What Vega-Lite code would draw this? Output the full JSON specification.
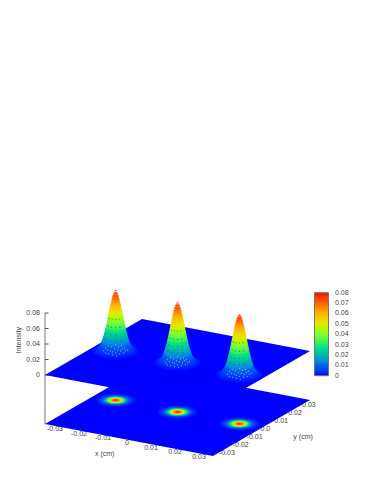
{"$schema":"https://vega.github.io/schema/vega-lite/v6.json","width":374,"height":484,"autosize":{"type":"fit","contains":"padding"},"padding":0,"background":"white","config":{"view":{"stroke":null},"text":{"font":"Liberation Sans","fontSize":7,"fill":"#444444"}},
"datasets":{
"plane":[{"x":-0.035,"y":-0.035,"xb":-0.035,"yb":-0.035},{"x":-0.035,"y":0.035,"xb":0.00542,"yb":-0.035},{"x":-0.00542,"y":0.035,"xb":0.035,"yb":-0.035},{"x":0.035,"y":0.035,"xb":0.035,"yb":0.035}],
"xticks":[{"x":-0.03,"y":-0.035,"t":"-0.03"},{"x":-0.02,"y":-0.035,"t":"-0.02"},{"x":-0.01,"y":-0.035,"t":"-0.01"},{"x":0,"y":-0.035,"t":"0"},{"x":0.01,"y":-0.035,"t":"0.01"},{"x":0.02,"y":-0.035,"t":"0.02"},{"x":0.03,"y":-0.035,"t":"0.03"}],
"yticks":[{"x":0.035,"y":-0.03,"t":"-0.03"},{"x":0.035,"y":-0.02,"t":"-0.02"},{"x":0.035,"y":-0.01,"t":"-0.01"},{"x":0.035,"y":0,"t":"0.0"},{"x":0.035,"y":0.01,"t":"0.01"},{"x":0.035,"y":0.02,"t":"0.02"},{"x":0.035,"y":0.03,"t":"0.03"}],
"zticks":[{"x":-0.035,"y":-0.035,"z":0,"t":"0"},{"x":-0.035,"y":-0.035,"z":0.02,"t":"0.02"},{"x":-0.035,"y":-0.035,"z":0.04,"t":"0.04"},{"x":-0.035,"y":-0.035,"z":0.06,"t":"0.06"},{"x":-0.035,"y":-0.035,"z":0.08,"t":"0.08"}],
"cbar":[{"z":0.01},{"z":0.02},{"z":0.03},{"z":0.04},{"z":0.05},{"z":0.06},{"z":0.07}],
"cbarlabels":[{"z":0,"t":"0"},{"z":0.01,"t":"0.01"},{"z":0.02,"t":"0.02"},{"z":0.03,"t":"0.03"},{"z":0.04,"t":"0.04"},{"z":0.05,"t":"0.05"},{"z":0.06,"t":"0.06"},{"z":0.07,"t":"0.07"},{"z":0.08,"t":"0.08"}],
"white":[{"dx":-0.00267,"dy":-0.00403,"z":0.003},{"dx":-0.00367,"dy":-0.00085,"z":0.003},{"dx":-0.00096,"dy":-0.00555,"z":0.003},{"dx":-0.00196,"dy":-0.00237,"z":0.003},{"dx":-0.00382,"dy":0.00157,"z":0.003},{"dx":0.00053,"dy":-0.00595,"z":0.003},{"dx":-0.00048,"dy":-0.00278,"z":0.003},{"dx":-0.00234,"dy":0.00116,"z":0.003},{"dx":0.00232,"dy":-0.00618,"z":0.003},{"dx":0.00069,"dy":-0.00336,"z":0.003},{"dx":-0.00031,"dy":-0.00018,"z":0.003},{"dx":-0.00217,"dy":0.00376,"z":0.003},{"dx":0.00217,"dy":-0.00376,"z":0.003},{"dx":0.00411,"dy":-0.0064,"z":0.003},{"dx":0.00117,"dy":-0.00058,"z":0.003},{"dx":-0.00015,"dy":0.00242,"z":0.003},{"dx":0.00397,"dy":-0.00398,"z":0.003},{"dx":0.00266,"dy":-0.00098,"z":0.003},{"dx":0.00025,"dy":0.00389,"z":0.003},{"dx":0.00219,"dy":0.00125,"z":0.003},{"dx":0.00467,"dy":-0.00233,"z":0.003},{"dx":0.00228,"dy":0.00255,"z":0.003},{"dx":0.00422,"dy":-0.00009,"z":0.003},{"dx":0.0043,"dy":0.00121,"z":0.003}],
"dark":[{"dx":0.0022,"dy":-0.0013,"z":0.044},{"dx":0.00125,"dy":-0.0022,"z":0.044},{"dx":0,"dy":-0.0025,"z":0.044},{"dx":-0.00125,"dy":-0.0022,"z":0.044},{"dx":0.0026,"dy":-0.0015,"z":0.034},{"dx":0.0015,"dy":-0.0026,"z":0.034},{"dx":0,"dy":-0.003,"z":0.034},{"dx":-0.0015,"dy":-0.0026,"z":0.034},{"dx":0.003,"dy":-0.0018,"z":0.025},{"dx":0.0018,"dy":-0.003,"z":0.025},{"dx":0,"dy":-0.0035,"z":0.025},{"dx":-0.0018,"dy":-0.003,"z":0.025},{"dx":0.0035,"dy":-0.002,"z":0.0174},{"dx":0.002,"dy":-0.0035,"z":0.0174},{"dx":0,"dy":-0.004,"z":0.0174},{"dx":-0.002,"dy":-0.0035,"z":0.0174}],
"hill":[
{"x":-0.0258,"z":0.0005,"r":0.00732},{"x":-0.0258,"z":0.001,"r":0.0068},{"x":-0.0258,"z":0.002,"r":0.00624},{"x":-0.0258,"z":0.003,"r":0.00588},{"x":-0.0258,"z":0.004,"r":0.00562},{"x":-0.0258,"z":0.006,"r":0.00522},{"x":-0.0258,"z":0.008,"r":0.00492},{"x":-0.0258,"z":0.01,"r":0.00468},{"x":-0.0258,"z":0.012,"r":0.00447},{"x":-0.0258,"z":0.014,"r":0.00428},{"x":-0.0258,"z":0.016,"r":0.00411},{"x":-0.0258,"z":0.018,"r":0.00396},{"x":-0.0258,"z":0.02,"r":0.00381},{"x":-0.0258,"z":0.022,"r":0.00368},{"x":-0.0258,"z":0.024,"r":0.00355},{"x":-0.0258,"z":0.026,"r":0.00343},{"x":-0.0258,"z":0.028,"r":0.00331},{"x":-0.0258,"z":0.03,"r":0.0032},{"x":-0.0258,"z":0.032,"r":0.00309},{"x":-0.0258,"z":0.034,"r":0.00299},{"x":-0.0258,"z":0.036,"r":0.00288},{"x":-0.0258,"z":0.038,"r":0.00278},{"x":-0.0258,"z":0.04,"r":0.00268},{"x":-0.0258,"z":0.042,"r":0.00259},{"x":-0.0258,"z":0.044,"r":0.00249},{"x":-0.0258,"z":0.046,"r":0.00239},{"x":-0.0258,"z":0.048,"r":0.0023},{"x":-0.0258,"z":0.05,"r":0.0022},{"x":-0.0258,"z":0.052,"r":0.0021},{"x":-0.0258,"z":0.054,"r":0.002},{"x":-0.0258,"z":0.056,"r":0.00191},{"x":-0.0258,"z":0.058,"r":0.00181},{"x":-0.0258,"z":0.06,"r":0.00171},{"x":-0.0258,"z":0.062,"r":0.0016},{"x":-0.0258,"z":0.064,"r":0.00149},{"x":-0.0258,"z":0.066,"r":0.00138},{"x":-0.0258,"z":0.068,"r":0.00126},{"x":-0.0258,"z":0.07,"r":0.00113},{"x":-0.0258,"z":0.072,"r":0.00099},{"x":-0.0258,"z":0.074,"r":0.00083},{"x":-0.0258,"z":0.076,"r":0.00064},{"x":-0.0258,"z":0.078,"r":0.00037},
{"x":0,"z":0.0005,"r":0.00732},{"x":0,"z":0.001,"r":0.0068},{"x":0,"z":0.002,"r":0.00624},{"x":0,"z":0.003,"r":0.00588},{"x":0,"z":0.004,"r":0.00562},{"x":0,"z":0.006,"r":0.00522},{"x":0,"z":0.008,"r":0.00492},{"x":0,"z":0.01,"r":0.00468},{"x":0,"z":0.012,"r":0.00447},{"x":0,"z":0.014,"r":0.00428},{"x":0,"z":0.016,"r":0.00411},{"x":0,"z":0.018,"r":0.00396},{"x":0,"z":0.02,"r":0.00381},{"x":0,"z":0.022,"r":0.00368},{"x":0,"z":0.024,"r":0.00355},{"x":0,"z":0.026,"r":0.00343},{"x":0,"z":0.028,"r":0.00331},{"x":0,"z":0.03,"r":0.0032},{"x":0,"z":0.032,"r":0.00309},{"x":0,"z":0.034,"r":0.00299},{"x":0,"z":0.036,"r":0.00288},{"x":0,"z":0.038,"r":0.00278},{"x":0,"z":0.04,"r":0.00268},{"x":0,"z":0.042,"r":0.00259},{"x":0,"z":0.044,"r":0.00249},{"x":0,"z":0.046,"r":0.00239},{"x":0,"z":0.048,"r":0.0023},{"x":0,"z":0.05,"r":0.0022},{"x":0,"z":0.052,"r":0.0021},{"x":0,"z":0.054,"r":0.002},{"x":0,"z":0.056,"r":0.00191},{"x":0,"z":0.058,"r":0.00181},{"x":0,"z":0.06,"r":0.00171},{"x":0,"z":0.062,"r":0.0016},{"x":0,"z":0.064,"r":0.00149},{"x":0,"z":0.066,"r":0.00138},{"x":0,"z":0.068,"r":0.00126},{"x":0,"z":0.07,"r":0.00113},{"x":0,"z":0.072,"r":0.00099},{"x":0,"z":0.074,"r":0.00083},{"x":0,"z":0.076,"r":0.00064},{"x":0,"z":0.078,"r":0.00037},
{"x":0.0258,"z":0.0005,"r":0.00732},{"x":0.0258,"z":0.001,"r":0.0068},{"x":0.0258,"z":0.002,"r":0.00624},{"x":0.0258,"z":0.003,"r":0.00588},{"x":0.0258,"z":0.004,"r":0.00562},{"x":0.0258,"z":0.006,"r":0.00522},{"x":0.0258,"z":0.008,"r":0.00492},{"x":0.0258,"z":0.01,"r":0.00468},{"x":0.0258,"z":0.012,"r":0.00447},{"x":0.0258,"z":0.014,"r":0.00428},{"x":0.0258,"z":0.016,"r":0.00411},{"x":0.0258,"z":0.018,"r":0.00396},{"x":0.0258,"z":0.02,"r":0.00381},{"x":0.0258,"z":0.022,"r":0.00368},{"x":0.0258,"z":0.024,"r":0.00355},{"x":0.0258,"z":0.026,"r":0.00343},{"x":0.0258,"z":0.028,"r":0.00331},{"x":0.0258,"z":0.03,"r":0.0032},{"x":0.0258,"z":0.032,"r":0.00309},{"x":0.0258,"z":0.034,"r":0.00299},{"x":0.0258,"z":0.036,"r":0.00288},{"x":0.0258,"z":0.038,"r":0.00278},{"x":0.0258,"z":0.04,"r":0.00268},{"x":0.0258,"z":0.042,"r":0.00259},{"x":0.0258,"z":0.044,"r":0.00249},{"x":0.0258,"z":0.046,"r":0.00239},{"x":0.0258,"z":0.048,"r":0.0023},{"x":0.0258,"z":0.05,"r":0.0022},{"x":0.0258,"z":0.052,"r":0.0021},{"x":0.0258,"z":0.054,"r":0.002},{"x":0.0258,"z":0.056,"r":0.00191},{"x":0.0258,"z":0.058,"r":0.00181},{"x":0.0258,"z":0.06,"r":0.00171},{"x":0.0258,"z":0.062,"r":0.0016},{"x":0.0258,"z":0.064,"r":0.00149},{"x":0.0258,"z":0.066,"r":0.00138},{"x":0.0258,"z":0.068,"r":0.00126},{"x":0.0258,"z":0.07,"r":0.00113},{"x":0.0258,"z":0.072,"r":0.00099},{"x":0.0258,"z":0.074,"r":0.00083},{"x":0.0258,"z":0.076,"r":0.00064},{"x":0.0258,"z":0.078,"r":0.00037}
]},
"encoding":{"x":{"field":"sx","type":"quantitative","scale":{"domain":[0,374],"nice":false,"zero":false},"axis":null},"y":{"field":"sy","type":"quantitative","scale":{"domain":[484,0],"nice":false,"zero":false},"axis":null}},
"layer":[
{"data":{"name":"xticks"},"transform":[{"calculate":"177.5+2400*datum.x+1386*datum.y","as":"sx"},{"calculate":"412+457*datum.x-800*datum.y","as":"sy"}],"mark":{"type":"text","align":"center","baseline":"middle","dx":-2,"dy":3},"encoding":{"text":{"field":"t"}}},
{"data":{"name":"yticks"},"transform":[{"calculate":"177.5+2400*datum.x+1386*datum.y","as":"sx"},{"calculate":"412+457*datum.x-800*datum.y","as":"sy"}],"mark":{"type":"text","align":"left","baseline":"middle","dx":-1,"dy":1},"encoding":{"text":{"field":"t"}}},
{"data":{"values":[{"x":0,"y":-0.0525,"t":"x (cm)"},{"x":0.0529,"y":-0.001,"t":"y (cm)"}]},"transform":[{"calculate":"177.5+2400*datum.x+1386*datum.y","as":"sx"},{"calculate":"412+457*datum.x-800*datum.y","as":"sy"}],"mark":{"type":"text","align":"center","baseline":"middle"},"encoding":{"text":{"field":"t"}}},
{"data":{"name":"zticks"},"transform":[{"calculate":"177.5+2400*datum.x+1386*datum.y","as":"sx"},{"calculate":"363+457*datum.x-800*datum.y-775*datum.z","as":"sy"}],"mark":{"type":"text","align":"right","baseline":"middle","dx":-5},"encoding":{"text":{"field":"t"}}},
{"data":{"values":[{"x":-0.035,"y":-0.035,"z":0.045,"t":"Intensity"}]},"transform":[{"calculate":"177.5+2400*datum.x+1386*datum.y","as":"sx"},{"calculate":"363+457*datum.x-800*datum.y-775*datum.z","as":"sy"}],"mark":{"type":"text","align":"center","baseline":"middle","angle":270,"dy":-26},"encoding":{"text":{"field":"t"}}},
{"data":{"values":[{"x":-0.035,"y":-0.035,"z":0.08}]},"transform":[{"calculate":"177.5+2400*datum.x+1386*datum.y","as":"sx"},{"calculate":"363+457*datum.x-800*datum.y-775*datum.z","as":"sy"},{"calculate":"412+457*datum.x-800*datum.y","as":"sb"}],"mark":{"type":"rule","color":"#777777","strokeWidth":1},"encoding":{"y2":{"field":"sb"}}},
{"data":{"name":"zticks"},"transform":[{"calculate":"177.5+2400*datum.x+1386*datum.y","as":"sx"},{"calculate":"datum.sx+3.5","as":"se"},{"calculate":"363+457*datum.x-800*datum.y-775*datum.z","as":"sy"}],"mark":{"type":"rule","color":"#555555","strokeWidth":1},"encoding":{"x2":{"field":"se"}}},
{"data":{"name":"plane"},"transform":[{"calculate":"177.5+2400*datum.x+1386*datum.y","as":"sx"},{"calculate":"412+457*datum.x-800*datum.y","as":"sy"},{"calculate":"412+457*datum.xb-800*datum.yb","as":"sb"}],"mark":{"type":"area","color":"#0000ff","opacity":1},"encoding":{"y2":{"field":"sb"}}},
{"data":{"name":"hill"},"transform":[{"calculate":"177.5+2400*datum.x","as":"sx"},{"calculate":"412+457*datum.x","as":"sy"}],"mark":{"type":"point","filled":true,"opacity":1,"strokeWidth":0,"shape":"M-1,0C-1,-0.183,-0.5523,-0.332,0,-0.332C0.5523,-0.332,1,-0.183,1,0C1,0.183,0.5523,0.332,0,0.332C-0.5523,0.332,-1,0.183,-1,0Z"},"encoding":{"color":{"field":"z","type":"quantitative","scale":{"domain":[0,0.01,0.02,0.03,0.04,0.05,0.06,0.07,0.08],"range":["#0000ff","#0061e8","#00b5a8","#20eb69","#80ff29","#dfeb00","#ffb500","#ff6100","#ff0000"]},"legend":{"type":"gradient","orient":"none","legendX":314.5,"legendY":292.7,"title":null,"direction":"vertical","gradientLength":83,"gradientThickness":14,"gradientStrokeColor":"#777777","gradientStrokeWidth":1,"values":[],"labelExpr":"''"}},"size":{"field":"r","type":"quantitative","scale":{"type":"pow","exponent":2,"domain":[0,0.01],"range":[0,3071]},"legend":null}}},
{"data":{"name":"plane"},"transform":[{"calculate":"177.5+2400*datum.x+1386*datum.y","as":"sx"},{"calculate":"363+457*datum.x-800*datum.y","as":"sy"},{"calculate":"363+457*datum.xb-800*datum.yb","as":"sb"}],"mark":{"type":"area","color":"#0000ff","opacity":1},"encoding":{"y2":{"field":"sb"}}},
{"data":{"name":"hill"},"transform":[{"calculate":"177.5+2400*datum.x","as":"sx"},{"calculate":"363+457*datum.x-775*datum.z","as":"sy"},{"calculate":"datum.r*1.15","as":"rw"}],"mark":{"type":"point","filled":true,"opacity":1,"strokeWidth":0,"shape":"M-1,0C-1,-0.183,-0.5523,-0.332,0,-0.332C0.5523,-0.332,1,-0.183,1,0C1,0.183,0.5523,0.332,0,0.332C-0.5523,0.332,-1,0.183,-1,0Z"},"encoding":{"color":{"field":"z","type":"quantitative","scale":{"domain":[0,0.01,0.02,0.03,0.04,0.05,0.06,0.07,0.08],"range":["#0000ff","#0061e8","#00b5a8","#20eb69","#80ff29","#dfeb00","#ffb500","#ff6100","#ff0000"]},"legend":null},"size":{"field":"rw","type":"quantitative","scale":{"type":"pow","exponent":2,"domain":[0,0.01],"range":[0,3071]},"legend":null}}},
{"data":{"name":"dark"},"transform":[{"calculate":"[-0.0258,0,0.0258]","as":"p"},{"flatten":["p"]},{"calculate":"177.5+2400*(datum.p+datum.dx)+1386*datum.dy","as":"sx"},{"calculate":"363+457*(datum.p+datum.dx)-800*datum.dy-775*datum.z","as":"sy"}],"mark":{"type":"point","filled":true,"color":"#00205a","opacity":0.4,"size":2,"strokeWidth":0}},
{"data":{"name":"white"},"transform":[{"calculate":"[-0.0258,0,0.0258]","as":"p"},{"flatten":["p"]},{"calculate":"177.5+2400*(datum.p+datum.dx)+1386*datum.dy","as":"sx"},{"calculate":"363+457*(datum.p+datum.dx)-800*datum.dy-775*datum.z","as":"sy"}],"mark":{"type":"point","filled":true,"color":"#ffffff","opacity":0.5,"size":1.5,"strokeWidth":0}},
{"data":{"name":"cbar"},"transform":[{"calculate":"314.5","as":"sx"},{"calculate":"317.5","as":"se"},{"calculate":"375.7-1037.5*datum.z","as":"sy"}],"mark":{"type":"rule","color":"#222222","strokeWidth":1},"encoding":{"x2":{"field":"se"}}},
{"data":{"name":"cbar"},"transform":[{"calculate":"325.5","as":"sx"},{"calculate":"328.5","as":"se"},{"calculate":"375.7-1037.5*datum.z","as":"sy"}],"mark":{"type":"rule","color":"#222222","strokeWidth":1},"encoding":{"x2":{"field":"se"}}},
{"data":{"name":"cbarlabels"},"transform":[{"calculate":"335","as":"sx"},{"calculate":"375.7-1037.5*datum.z","as":"sy"}],"mark":{"type":"text","align":"left","baseline":"middle"},"encoding":{"text":{"field":"t"}}}
]}
